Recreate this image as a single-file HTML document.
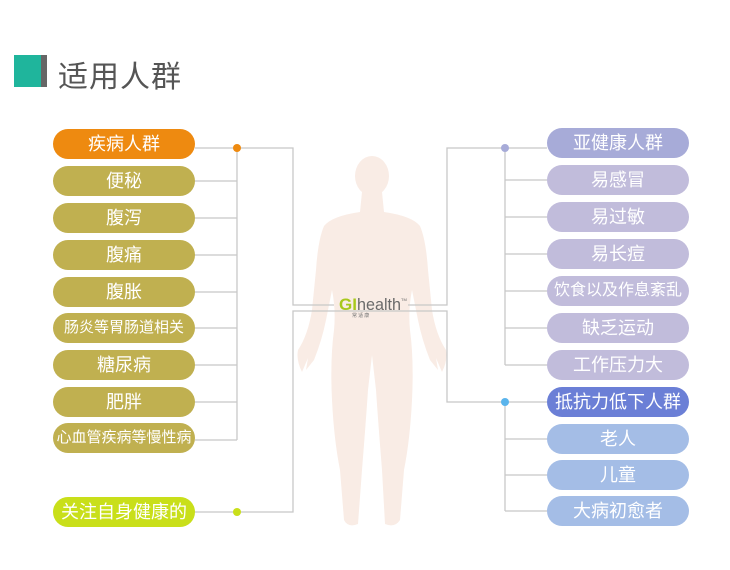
<!DOCTYPE html>
<html><head><meta charset="utf-8"><style>
body{margin:0;width:730px;height:570px;background:#fff;position:relative;overflow:hidden;font-family:"Liberation Sans","Noto Sans CJK SC",sans-serif}
.p{position:absolute;width:142px;height:30px;border-radius:15px;color:#fff;font-size:18px;line-height:30px;text-align:center;white-space:nowrap}
.s{font-size:15px}
.t{position:absolute;left:58px;top:52px;font-size:30px;color:#555;letter-spacing:1px}
</style></head><body>
<div style="position:absolute;left:14px;top:55px;width:27px;height:32px;background:#1fb59c"></div>
<div style="position:absolute;left:41px;top:55px;width:6px;height:32px;background:#666"></div>
<div class="t">适用人群</div>
<svg width="730" height="570" style="position:absolute;left:0;top:0">
<g fill="#f9ece5">
<ellipse cx="372" cy="176" rx="17" ry="20"/>
<path d="M362 192 L382 192 L384 212 Q412 216 420 226 Q426 240 428 270 L432 310 Q436 335 446 350 Q448 360 442 372 L436 358 L438 370 L430 360 Q422 340 418 320 L412 290 Q408 310 410 330 Q414 360 412 400 Q410 440 404 470 L400 520 Q395 528 385 524 L382 470 Q378 420 376 390 L372 355 L368 390 Q366 420 362 470 L358 524 Q348 528 344 520 L340 470 Q334 440 332 400 Q330 360 334 330 Q336 310 332 290 L326 320 Q322 340 314 360 L306 370 L308 358 L302 372 Q296 360 298 350 Q308 335 312 310 L316 270 Q318 240 324 226 Q332 216 360 212 Z"/>
</g>
<g stroke="#c8c8c8" stroke-width="1.3" fill="none">
<path d="M195 148H237M195 181H237M195 218H237M195 255H237M195 292H237M195 328H237M195 365H237M195 402H237M195 440H237M237 148V440"/>
<path d="M237 148H293V305H334M408 305H447V148H547"/>
<path d="M195 512H293V311H447V402H547"/>
<path d="M505 148V365M505 180H547M505 217H547M505 254H547M505 291H547M505 328H547M505 365H547"/>
<path d="M505 402V511M505 439H547M505 475H547M505 511H547"/>
</g>
<circle cx="237" cy="148" r="4" fill="#ee8a10"/>
<circle cx="237" cy="512" r="4" fill="#c9df1a"/>
<circle cx="505" cy="148" r="4" fill="#a7abd8"/>
<circle cx="505" cy="402" r="4" fill="#5ab4ec"/>
<text x="339" y="310" font-family="Liberation Sans" font-size="17" fill="#a8c81c" font-weight="bold">GI</text>
<text x="357" y="310" font-family="Liberation Sans" font-size="17" fill="#6a6a6a" textLength="44" lengthAdjust="spacingAndGlyphs">health</text>
<text x="401" y="301" font-family="Liberation Sans" font-size="4" fill="#666">TM</text>
<text x="352" y="317" font-family="Noto Sans CJK SC" font-size="5" fill="#777">常   适   康</text>
</svg>
<div class="p" style="left:53px;top:129px;background:#ee8a10">疾病人群</div>
<div class="p" style="left:53px;top:166px;background:#c0b050">便秘</div>
<div class="p" style="left:53px;top:203px;background:#c0b050">腹泻</div>
<div class="p" style="left:53px;top:240px;background:#c0b050">腹痛</div>
<div class="p" style="left:53px;top:277px;background:#c0b050">腹胀</div>
<div class="p s" style="left:53px;top:313px;background:#c0b050">肠炎等胃肠道相关</div>
<div class="p" style="left:53px;top:350px;background:#c0b050">糖尿病</div>
<div class="p" style="left:53px;top:387px;background:#c0b050">肥胖</div>
<div class="p s" style="left:53px;top:423px;background:#c0b050">心血管疾病等慢性病</div>
<div class="p" style="left:53px;top:497px;background:#c9df1a">关注自身健康的</div>
<div class="p" style="left:547px;top:128px;background:#a7abd8">亚健康人群</div>
<div class="p" style="left:547px;top:165px;background:#c1bcdb">易感冒</div>
<div class="p" style="left:547px;top:202px;background:#c1bcdb">易过敏</div>
<div class="p" style="left:547px;top:239px;background:#c1bcdb">易长痘</div>
<div class="p s" style="left:547px;top:276px;background:#c1bcdb;font-size:16px">饮食以及作息紊乱</div>
<div class="p" style="left:547px;top:313px;background:#c1bcdb">缺乏运动</div>
<div class="p" style="left:547px;top:350px;background:#c1bcdb">工作压力大</div>
<div class="p" style="left:547px;top:387px;background:#6b7fd6">抵抗力低下人群</div>
<div class="p" style="left:547px;top:424px;background:#a4bde6">老人</div>
<div class="p" style="left:547px;top:460px;background:#a4bde6">儿童</div>
<div class="p" style="left:547px;top:496px;background:#a4bde6">大病初愈者</div>
</body></html>
